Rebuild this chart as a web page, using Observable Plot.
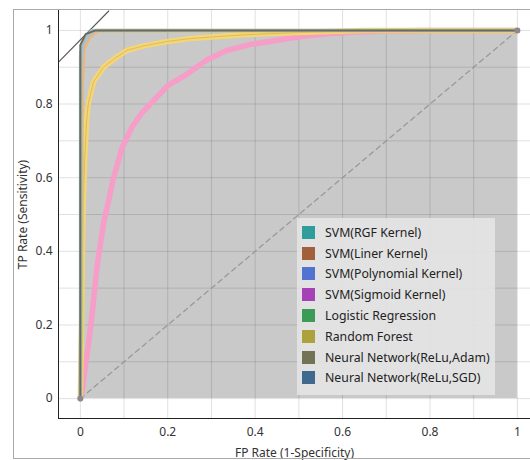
<!DOCTYPE html>
<html>
<head>
<meta charset="utf-8">
<script src="https://cdn.jsdelivr.net/npm/d3@7"></script>
<script src="https://cdn.jsdelivr.net/npm/@observablehq/plot@0.6"></script>
<style>
  html, body { margin: 0; padding: 0; background: #fff; }
  #wrap { position: relative; width: 530px; height: 460px; overflow: hidden; font-family: "Noto Sans", "DejaVu Sans", sans-serif; }
  #frame { position: absolute; left: 13px; top: 9px; width: 600px; height: 448px; border: 1px solid #a9a9a9; pointer-events: none; }
  #legend { position: absolute; left: 297px; top: 218px; width: 198px; height: 177px; background: rgba(228,228,228,0.9); box-sizing: border-box; padding-top: 4px; }
  .item { display: flex; align-items: center; height: 20.8px; font-size: 12.3px; color: #222; }
  .sw { width: 13px; height: 13px; margin-left: 5px; margin-right: 10px; flex: none; }
</style>
</head>
<body>
<div id="wrap"><div id="frame"></div></div>
<script>
// ---- data ----
const models = ["SVM(RGF Kernel)", "SVM(Liner Kernel)", "SVM(Polynomial Kernel)", "SVM(Sigmoid Kernel)",
  "Logistic Regression", "Random Forest", "Neural Network(ReLu,Adam)", "Neural Network(ReLu,SGD)"];
const legendColors = ["#2f9d9c", "#a25f3c", "#5074d0", "#a543b6", "#3d9b55", "#aca13a", "#737257", "#40698f"];

const xTicks = [0, 0.2, 0.4, 0.6, 0.8, 1];
const yTicks = [0, 0.2, 0.4, 0.6, 0.8, 1];
const gridTicks = [0, 0.1, 0.2, 0.3, 0.4, 0.5, 0.6, 0.7, 0.8, 0.9, 1];
const xDomain = [-0.05, 1.03];
const yDomain = [-0.054, 1.054];

// ROC curves (FP rate, TP rate)
const sigmoidFpr = [0, 0.004, 0.011, 0.02, 0.027, 0.038, 0.053, 0.065, 0.076, 0.095, 0.118, 0.14, 0.168, 0.2, 0.245, 0.29, 0.336, 0.39, 0.45, 0.51, 0.566, 0.62, 0.7, 0.8, 1];
const sigmoidTpr = [0, 0.02, 0.085, 0.16, 0.23, 0.357, 0.475, 0.54, 0.6, 0.68, 0.737, 0.775, 0.81, 0.85, 0.882, 0.92, 0.946, 0.962, 0.973, 0.984, 0.991, 0.995, 0.998, 1, 1];

const forestFpr = [0, 0.003, 0.004, 0.006, 0.01, 0.014, 0.018, 0.03, 0.053, 0.08, 0.107, 0.145, 0.2, 0.245, 0.3, 0.375, 0.45, 0.55, 0.65, 1];
const forestTpr = [0, 0.2, 0.35, 0.5, 0.65, 0.75, 0.8, 0.86, 0.9, 0.925, 0.946, 0.958, 0.97, 0.977, 0.982, 0.988, 0.992, 0.996, 1, 1];

const rgfFpr = [0, 0, 0.005, 0.015, 0.03, 1];
const rgfTpr = [0, 0.93, 0.965, 0.985, 1, 1];
const linerFpr = [0, 0.004, 0.008, 0.02, 0.04, 1];
const linerTpr = [0, 0.85, 0.95, 0.98, 1, 1];
const polyFpr = [0, 0.002, 0.006, 0.018, 0.035, 1];
const polyTpr = [0, 0.9, 0.96, 0.985, 1, 1];
const lrFpr = [0, 0.003, 0.004, 0.01, 0.03, 1];
const lrTpr = [0, 0.2, 0.93, 0.97, 1, 1];
const adamFpr = [0, 0, 0.012, 0.035, 1];
const adamTpr = [0, 0.96, 0.99, 1, 1];
const sgdFpr = [0, 0.001, 0.01, 0.025, 1];
const sgdTpr = [0, 0.94, 0.98, 1, 1];

// convex hull of all curves (gray area)
const hullFpr = [0, 0, 0.035, 1];
const hullTpr = [0, 0.96, 1, 1];
// iso-performance line
const isoFpr = [-0.05, 0.065];
const isoSlope = 1.21;
const isoAt0 = 0.974;
// chance diagonal
const diagFpr = [0, 1];
const diagTpr = [0, 1];

const toRows = (xs, ys) => xs.map((x, i) => ({x, y: ys[i]}));
const isoRows = isoFpr.map(x => ({x, y: isoAt0 + isoSlope * x}));

const thick = (xs, ys, color, w, op) => Plot.line(toRows(xs, ys), {x: "x", y: "y", stroke: color, strokeWidth: w, strokeOpacity: op, strokeLinejoin: "round", strokeLinecap: "round"});

const chart = Plot.plot({
  width: 530, height: 460,
  marginLeft: 58, marginRight: 0, marginTop: 10, marginBottom: 42,
  style: {fontFamily: '"Noto Sans", "DejaVu Sans", sans-serif', fontSize: "12px", color: "#333", background: "transparent"},
  x: {domain: xDomain},
  y: {domain: yDomain},
  marks: [
    Plot.areaY(toRows(hullFpr, hullTpr), {x: "x", y: "y", fill: "#c9c9c9"}),
    Plot.gridX(gridTicks, {stroke: "#000", strokeOpacity: 0.12}),
    Plot.gridY(gridTicks, {stroke: "#000", strokeOpacity: 0.12}),
    Plot.line(toRows(diagFpr, diagTpr), {x: "x", y: "y", stroke: "#999", strokeWidth: 1.3, strokeDasharray: "5,4"}),
    Plot.line(isoRows, {x: "x", y: "y", stroke: "#555", strokeWidth: 1.1}),
    thick(sigmoidFpr, sigmoidTpr, "#f99bc8", 5.5, 0.95),
    thick(forestFpr, forestTpr, "#f8d670", 5.5, 0.95),
    thick(forestFpr, forestTpr, "#a8903a", 0.7, 0.5),
    thick(lrFpr, lrTpr, "#a8de78", 3.5, 0.9),
    thick(linerFpr, linerTpr, "#f3b46c", 3.5, 0.9),
    thick(polyFpr, polyTpr, "#aebde8", 3, 0.8),
    thick(rgfFpr, rgfTpr, "#93d0cc", 3, 0.8),
    thick(sgdFpr, sgdTpr, "#a3bbd0", 3, 0.8),
    thick(adamFpr, adamTpr, "#6f6a52", 2, 1),
    Plot.dot(toRows(diagFpr, diagTpr), {x: "x", y: "y", r: 3, fill: "#8a8a8a"}),
    Plot.ruleX([xDomain[0]], {stroke: "#222", strokeWidth: 1}),
    Plot.ruleY([yDomain[0]], {stroke: "#222", strokeWidth: 1}),
    Plot.axisX({ticks: xTicks, tickSize: 0, tickPadding: 9, tickFormat: d => String(d), fontSize: 12,
      label: "FP Rate (1-Specificity)", labelAnchor: "center", labelOffset: 38, labelArrow: "none"}),
    Plot.axisY({ticks: yTicks, tickSize: 0, tickPadding: 6, tickFormat: d => String(d), fontSize: 12,
      label: "TP Rate (Sensitivity)", labelAnchor: "center", labelOffset: 40, labelArrow: "none"})
  ]
});

const wrap = document.getElementById("wrap");
chart.style.position = "absolute";
chart.style.left = "0px";
chart.style.top = "0px";
wrap.insertBefore(chart, wrap.firstChild);

const legend = document.createElement("div");
legend.id = "legend";
models.forEach((m, i) => {
  const it = document.createElement("div");
  it.className = "item";
  const sw = document.createElement("span");
  sw.className = "sw";
  sw.style.background = legendColors[i];
  const tx = document.createElement("span");
  tx.textContent = m;
  it.appendChild(sw);
  it.appendChild(tx);
  legend.appendChild(it);
});
wrap.appendChild(legend);
</script>
</body>
</html>
